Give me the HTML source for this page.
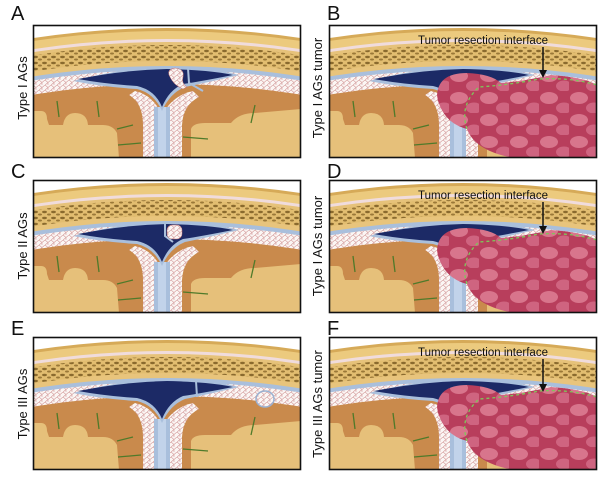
<!DOCTYPE html>
<html><head><meta charset="utf-8"><style>
html,body{margin:0;padding:0;background:#fff;width:600px;height:481px;overflow:hidden}
svg{display:block}
text{font-family:"Liberation Sans",sans-serif}
</style></head><body>
<svg width="600" height="481" viewBox="0 0 600 481" xmlns="http://www.w3.org/2000/svg">
<defs>
<pattern id="mesh" width="6" height="5" patternUnits="userSpaceOnUse">
<rect width="6" height="5" fill="#fbf6f4"/>
<path d="M0,0 L3,2.5 L6,0 M3,2.5 L3,5 M0,5 L3,2.5" stroke="#d49a9a" stroke-width="0.6" fill="none"/>
</pattern>
<pattern id="dots" width="9" height="6" patternUnits="userSpaceOnUse">
<rect width="9" height="6" fill="#e2bd70"/>
<ellipse cx="2.5" cy="2" rx="2.4" ry="1.2" fill="#8a6a2e"/>
<ellipse cx="7" cy="4.5" rx="2" ry="1" fill="#9a7838"/>
</pattern>
<pattern id="tum" width="30" height="22" patternUnits="userSpaceOnUse">
<rect width="30" height="22" fill="#b83e5c"/>
<ellipse cx="10" cy="7" rx="9" ry="6" fill="#d8758c"/>
<ellipse cx="25" cy="17" rx="8" ry="5.5" fill="#cf6480"/>
</pattern>
<clipPath id="cp"><rect width="268" height="133"/></clipPath>
<g id="brain">
<g clip-path="url(#cp)">
<rect width="268" height="133" fill="#fff"/>
<circle cx="134" cy="900" r="897" fill="#d6aa58"/>
<circle cx="134" cy="900" r="894" fill="#ecca7e"/>
<circle cx="134" cy="900" r="886" fill="#f0dcdc"/>
<circle cx="134" cy="900" r="883" fill="#e6c27a"/>
<circle cx="134" cy="900" r="880" fill="url(#dots)"/>
<circle cx="134" cy="900" r="864" fill="#e8c47c"/>
<circle cx="134" cy="900" r="859" fill="#a9bfdc"/>
<circle cx="134" cy="900" r="855" fill="url(#mesh)"/>
<circle cx="134" cy="900" r="841" fill="#c98a4c"/>
<path d="M0,86 L8,86 Q14,86 14,94 L16,100 L30,100 Q32,88 42,88 Q54,88 55,100 L70,100 Q80,100 84,108 L86,133 L0,133 Z" fill="#e6c07a"/>
<path d="M158,133 L158,104 Q160,98 172,98 L198,98 Q206,88 222,88 L268,84 L268,133 Z" fill="#e6c07a"/>
<path d="M24,76 L26,92 M64,76 L66,92 M84,104 L100,100 M85,120 L108,118 M150,112 L175,114 M222,80 L218,98" stroke="#4f7a2a" stroke-width="1.3" fill="none"/>
<path d="M96,70 Q110,78 110,100 L110,133 L149,133 L149,100 Q150,80 166,72 L160,66 Q140,70 129,90 Q120,70 102,66 Z" fill="url(#mesh)"/>
<rect x="121" y="82" width="16" height="51" fill="#a9bfdc"/>
<rect x="125" y="82" width="8" height="51" fill="#c2d3ea"/>
<path d="M40,56 Q90,43 134,41 Q180,43 206,50 Q172,58 152,62 Q137,68 129,86 Q121,68 104,64 Q70,62 40,56 Z" fill="#a9bfdc"/>
<path d="M45,54 Q90,45 134,44 Q178,45 200,50 Q170,56 150,59 Q136,65 129,82 Q122,65 104,61 Q72,59 45,54 Z" fill="#1c2a66"/>
</g>
</g>
<g id="fr"><rect x="0.5" y="0.5" width="267" height="132" fill="none" stroke="#111" stroke-width="1.6"/></g>
<g id="tumor">
<path d="M108,72 Q108,48 138,48 Q162,49 172,58 Q196,56 222,50 Q254,52 268,60 L268,133 L185,133 Q146,126 138,104 Q114,98 108,72 Z" fill="url(#tum)"/>
<path d="M138,104 Q130,80 150,62 Q180,60 210,54 Q240,52 268,60" stroke="#7ec85a" stroke-width="1.3" stroke-dasharray="3,3" fill="none"/>
</g>
</defs>

<g transform="translate(33,25)"><use href="#brain"/>
<path d="M136,50 Q134,44 142,43 Q152,44 150,52 Q148,58 154,62 L150,64 Q140,60 136,50 Z" fill="url(#mesh)" stroke="#c07070" stroke-width="0.5"/>
<path d="M155,43 L156,58 L170,66" stroke="#a9bfdc" stroke-width="2" fill="none"/>
<use href="#fr"/></g>
<g transform="translate(329,25)"><use href="#brain"/><use href="#tumor"/><use href="#fr"/></g>
<g transform="translate(33,180)"><use href="#brain"/>
<path d="M132,44 L132,56 L140,62" stroke="#a9bfdc" stroke-width="2" fill="none"/>
<rect x="134" y="45" width="15" height="14" rx="5" fill="url(#mesh)" stroke="#c07070" stroke-width="0.5"/>
<use href="#fr"/></g>
<g transform="translate(329,180)"><use href="#brain"/><use href="#tumor"/><use href="#fr"/></g>
<g transform="translate(33,337)"><use href="#brain"/>
<path d="M163,44 L164,60" stroke="#a9bfdc" stroke-width="2" fill="none"/>
<ellipse cx="232" cy="62" rx="9" ry="8" fill="url(#mesh)" stroke="#9ab0d0" stroke-width="1.5"/>
<use href="#fr"/></g>
<g transform="translate(329,337)"><use href="#brain"/><use href="#tumor"/><use href="#fr"/></g>

<g font-size="20" fill="#111">
<text x="11" y="20">A</text><text x="327" y="20">B</text>
<text x="11" y="178">C</text><text x="327" y="178">D</text>
<text x="11" y="335">E</text><text x="327" y="335">F</text>
</g>
<g font-size="13" fill="#111" text-anchor="middle">
<text transform="translate(27,88) rotate(-90)">Type I AGs</text>
<text transform="translate(322,88) rotate(-90)">Type I AGs tumor</text>
<text transform="translate(27,246) rotate(-90)">Type II AGs</text>
<text transform="translate(322,246) rotate(-90)">Type I AGs tumor</text>
<text transform="translate(27,404) rotate(-90)">Type III AGs</text>
<text transform="translate(322,404) rotate(-90)">Type III AGs tumor</text>
</g>
<g font-size="11.5" fill="#111">
<text x="418" y="44">Tumor resection interface</text>
<text x="418" y="199">Tumor resection interface</text>
<text x="418" y="356">Tumor resection interface</text>
</g>
<g stroke="#111" stroke-width="1.5" fill="#111">
<line x1="543" y1="47" x2="543" y2="72"/><path d="M539,70 L547,70 L543,78 Z" stroke="none"/>
<line x1="543" y1="202" x2="543" y2="228"/><path d="M539,226 L547,226 L543,234 Z" stroke="none"/>
<line x1="543" y1="359" x2="543" y2="386"/><path d="M539,384 L547,384 L543,392 Z" stroke="none"/>
</g>
</svg>
</body></html>
